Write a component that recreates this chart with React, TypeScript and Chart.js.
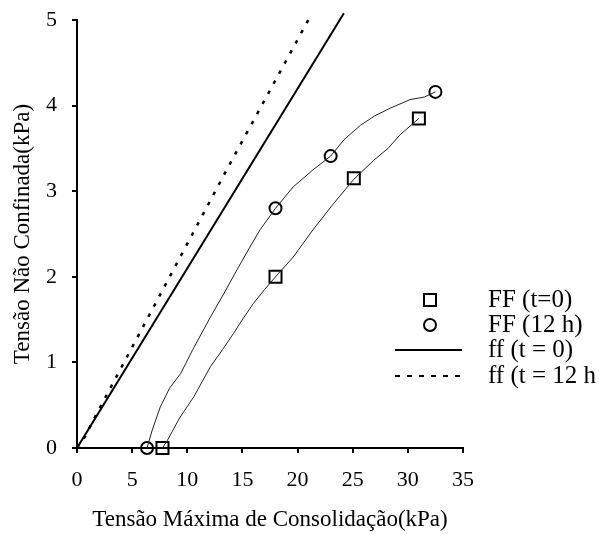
import React, { useEffect, useRef } from "react";
import { Chart, registerables } from "chart.js";

Chart.register(...registerables);

// Measured markers
const ffT0Points = [
  { x: 7.75, y: 0 },
  { x: 18, y: 2.0 },
  { x: 25.1, y: 3.15 },
  { x: 31, y: 3.85 },
];
const ff12Points = [
  { x: 6.35, y: 0 },
  { x: 18, y: 2.8 },
  { x: 23, y: 3.41 },
  { x: 32.5, y: 4.16 },
];

// Thin fitted curves through the markers
const ffT0Curve = [
  { x: 7.75, y: 0 }, { x: 8.2, y: 0.09 }, { x: 9.3, y: 0.35 }, { x: 10.6, y: 0.6 },
  { x: 12.1, y: 0.95 }, { x: 13.2, y: 1.15 }, { x: 14.2, y: 1.34 }, { x: 15.1, y: 1.52 },
  { x: 16.0, y: 1.69 }, { x: 17.0, y: 1.85 }, { x: 18.0, y: 2.0 }, { x: 19.6, y: 2.23 },
  { x: 21.4, y: 2.55 }, { x: 23.3, y: 2.86 }, { x: 25.1, y: 3.14 }, { x: 26.9, y: 3.36 },
  { x: 28.2, y: 3.5 }, { x: 29.3, y: 3.66 }, { x: 30.2, y: 3.76 }, { x: 31.0, y: 3.85 },
];
const ff12Curve = [
  { x: 6.35, y: 0 }, { x: 6.8, y: 0.2 }, { x: 7.55, y: 0.48 }, { x: 8.4, y: 0.7 },
  { x: 9.4, y: 0.87 }, { x: 10.5, y: 1.15 }, { x: 12.1, y: 1.53 }, { x: 13.3, y: 1.8 },
  { x: 14.5, y: 2.08 }, { x: 15.6, y: 2.33 }, { x: 16.6, y: 2.55 }, { x: 18.0, y: 2.8 },
  { x: 19.6, y: 3.05 }, { x: 21.4, y: 3.25 }, { x: 23.0, y: 3.41 }, { x: 24.2, y: 3.6 },
  { x: 25.7, y: 3.77 }, { x: 27.0, y: 3.88 }, { x: 28.4, y: 3.97 }, { x: 30.2, y: 4.07 },
  { x: 31.5, y: 4.1 }, { x: 32.5, y: 4.16 },
];

// Flow functions
const flowT0 = [
  { x: 0, y: 0 }, { x: 24.2, y: 5.08 },
];
const flow12 = [
  { x: 0, y: 0 }, { x: 0.75, y: 0.14 }, { x: 1.66, y: 0.37 }, { x: 7.7, y: 1.83 },
  { x: 13.74, y: 3.29 }, { x: 21.1, y: 5.03 },
];

const xTicks = [0, 5, 10, 15, 20, 25, 30, 35];
const yTicks = [0, 1, 2, 3, 4, 5];

const legendLabels = ["FF (t=0)", "FF (12 h)", "ff (t = 0)", "ff (t = 12 h"];

const FONT = "'Liberation Serif', 'Times New Roman', serif";
const TICK_FS = 22;
const TITLE_FS = 23;
const LEGEND_FS = 25;

const legendPlugin = {
  id: "customLegend",
  afterDraw(chart: any) {
    const ctx = chart.ctx;
    ctx.save();
    const rows = [300, 325, 350, 376];
    const symX = 430;
    const textX = 488;
    ctx.strokeStyle = "#000";
    ctx.fillStyle = "#000";
    ctx.lineWidth = 2;
    ctx.strokeRect(symX - 6, rows[0] - 6, 12, 12);
    ctx.beginPath();
    ctx.arc(symX, rows[1], 6, 0, Math.PI * 2);
    ctx.stroke();
    ctx.beginPath();
    ctx.moveTo(395, rows[2]);
    ctx.lineTo(462, rows[2]);
    ctx.stroke();
    ctx.setLineDash([5, 7]);
    ctx.beginPath();
    ctx.moveTo(395, rows[3]);
    ctx.lineTo(462, rows[3]);
    ctx.stroke();
    ctx.setLineDash([]);
    ctx.font = `${LEGEND_FS}px ${FONT}`;
    ctx.textBaseline = "middle";
    ctx.textAlign = "left";
    legendLabels.forEach((t, i) => ctx.fillText(t, textX, rows[i]));
    ctx.restore();
  },
};

export default function App() {
  const ref = useRef<HTMLCanvasElement | null>(null);
  useEffect(() => {
    document.body.style.margin = "0";
    const chart = new Chart(ref.current as HTMLCanvasElement, {
      type: "scatter",
      data: {
        datasets: [
          { label: "FF (t=0) curve", data: ffT0Curve, showLine: true, borderColor: "#222", borderWidth: 1, pointRadius: 0 },
          { label: "FF (12 h) curve", data: ff12Curve, showLine: true, borderColor: "#222", borderWidth: 1, pointRadius: 0 },
          { label: "ff (t = 0)", data: flowT0, showLine: true, borderColor: "#000", borderWidth: 2, pointRadius: 0, clip: false as any },
          { label: "ff (t = 12 h", data: flow12, showLine: true, borderColor: "#000", borderWidth: 2.5, borderDash: [3.5, 8], pointRadius: 0, clip: false as any },
          { label: "FF (t=0)", data: ffT0Points, pointStyle: "rect", pointRadius: 8.5, pointBorderWidth: 2, pointBorderColor: "#000", pointBackgroundColor: "rgba(0,0,0,0)", clip: false as any },
          { label: "FF (12 h)", data: ff12Points, pointStyle: "circle", pointRadius: 6, pointBorderWidth: 2, pointBorderColor: "#000", pointBackgroundColor: "rgba(0,0,0,0)", clip: false as any },
        ],
      },
      options: {
        responsive: false,
        animation: false,
        layout: { padding: { left: 0, top: 20, right: 136, bottom: 0 } },
        plugins: { legend: { display: false }, tooltip: { enabled: false } },
        scales: {
          x: {
            type: "linear",
            min: 0,
            max: 35,
            afterBuildTicks: (s: any) => { s.ticks = xTicks.map((v) => ({ value: v })); },
            afterFit: (s: any) => { s.height = 86; s.paddingLeft = 0; s.paddingRight = 0; },
            ticks: { color: "#000", font: { family: FONT, size: TICK_FS }, padding: 14 },
            grid: { drawOnChartArea: false, drawTicks: true, tickLength: 5, color: "#000", lineWidth: 2 },
            border: { display: true, color: "#000", width: 2 },
            title: {
              display: true,
              text: "Tensão Máxima de Consolidação(kPa)",
              color: "#000",
              font: { family: FONT, size: TITLE_FS },
              padding: { top: 0, bottom: 0 },
            },
          },
          y: {
            type: "linear",
            min: 0,
            max: 5,
            afterBuildTicks: (s: any) => { s.ticks = yTicks.map((v) => ({ value: v })); },
            afterFit: (s: any) => { s.width = 77; s.paddingTop = 0; s.paddingBottom = 0; },
            ticks: { color: "#000", font: { family: FONT, size: TICK_FS }, padding: 15 },
            grid: { drawOnChartArea: false, drawTicks: true, tickLength: 5, color: "#000", lineWidth: 2 },
            border: { display: true, color: "#000", width: 2 },
            title: {
              display: true,
              text: "Tensão Não Confinada(kPa)",
              color: "#000",
              font: { family: FONT, size: TITLE_FS },
              padding: { top: 9, bottom: 0 },
            },
          },
        },
      },
      plugins: [legendPlugin],
    } as any);
    return () => chart.destroy();
  }, []);
  return (
    <div style={{ width: 599, height: 534 }}>
      <canvas ref={ref} width={599} height={534} style={{ display: "block" }} />
    </div>
  );
}
